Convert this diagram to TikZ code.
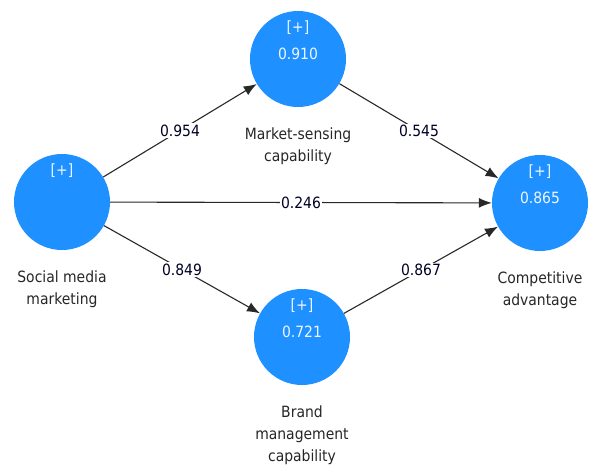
\documentclass[tikz,border=0pt]{standalone}
\usepackage{fontspec}
\setmainfont{DejaVu Sans Condensed}
\usetikzlibrary{arrows.meta,positioning}
\definecolor{latentblue}{RGB}{30,144,255}
\definecolor{pathgray}{RGB}{40,40,40}

\begin{document}
\begin{tikzpicture}[
  x=1pt, y=1pt,
  every node/.style={font=\fontsize{15.5}{22}\selectfont},
  latent/.style={circle, fill=latentblue, minimum size=96pt, inner sep=0pt},
  intext/.style={text=white!92!latentblue, align=center, inner sep=0pt},
  lvname/.style={align=center, inner sep=0pt, text=black!85},
  coef/.style={fill=white, inner sep=1.5pt, text=black!85!blue},
  arr/.style={draw=pathgray, line width=1.1pt, -{Latex[length=13pt,width=10pt]}}
]
  \useasboundingbox (0,0) rectangle (590,-466);

  % latent variables
  \node[latent] (smm) at (62,-202) {};
  \node[latent] (msc) at (298,-59) {};
  \node[latent] (ca) at (540,-203) {};
  \node[latent] (bmc) at (302,-337) {};

  % inner texts
  \node[intext] (smm-r) at ([yshift=31pt]smm.center) {[+]};
  \node[intext] (msc-r) at ([yshift=31pt]msc.center) {[+]};
  \node[intext] (msc-v) at ([yshift=5pt]msc.center) {0.910};
  \node[intext] (ca-r) at ([yshift=31pt]ca.center) {[+]};
  \node[intext] (ca-v) at ([yshift=5pt]ca.center) {0.865};
  \node[intext] (bmc-r) at ([yshift=31pt]bmc.center) {[+]};
  \node[intext] (bmc-v) at ([yshift=5pt]bmc.center) {0.721};

  % names
  \node[lvname, below=20pt of smm] (smm-l) {Social media\\marketing};
  \node[lvname, below=20pt of msc] (msc-l) {Market-sensing\\capability};
  \node[lvname, below=20pt of ca] (ca-l) {Competitive\\advantage};
  \node[lvname, below=20pt of bmc] (bmc-l) {Brand\\management\\capability};

  % paths
  \draw[arr] (smm) -- node[coef]{0.954} (msc);
  \draw[arr] (msc) -- node[coef]{0.545} (ca);
  \draw[arr] (smm) -- node[coef]{0.246} (ca);
  \draw[arr] (smm) -- node[coef]{0.849} (bmc);
  \draw[arr] (bmc) -- node[coef]{0.867} (ca);
\end{tikzpicture}
\end{document}
